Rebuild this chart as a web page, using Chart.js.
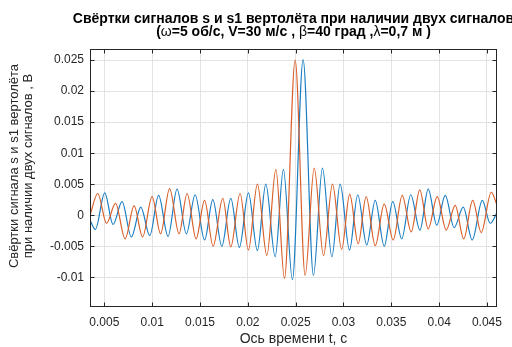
<!DOCTYPE html>
<html>
<head>
<meta charset="utf-8">
<script src="https://cdn.jsdelivr.net/npm/chart.js@4.4.1/dist/chart.umd.min.js"></script>
<style>
  html, body { margin: 0; padding: 0; background: #ffffff; }
  #wrap { width: 512px; height: 347px; }
</style>
</head>
<body>
<div id="wrap"><canvas id="svertka" width="512" height="347"></canvas></div>
<script>
// Свёртка s (синяя) и s1 (оранжевая): экстремумы по времени
const blueT = [0.00350, 0.00406, 0.00504, 0.00591, 0.00685, 0.00782, 0.00881, 0.00975, 0.01067, 0.01166,
               0.01260, 0.01358, 0.01449, 0.01548, 0.01634, 0.01728, 0.01822, 0.01912, 0.02006, 0.02100,
               0.02188, 0.02286, 0.02372, 0.02466, 0.02578, 0.02686, 0.02780, 0.02879, 0.02965, 0.03063,
               0.03149, 0.03243, 0.03332, 0.03426, 0.03515, 0.03609, 0.03703, 0.03799, 0.03886, 0.03975,
               0.04064, 0.04157, 0.04252, 0.04346, 0.04451, 0.04534, 0.04608];
const blueV = [-0.0008, -0.0023, 0.0036, -0.0015, 0.0022, -0.0035, 0.0013, -0.0033, 0.0032, -0.0034,
               0.0042, -0.0030, 0.0033, -0.0040, 0.0025, -0.0050, 0.0027, -0.0052, 0.0036, -0.0057,
               0.0050, -0.0067, 0.0074, -0.0104, 0.0251, -0.0097, 0.0076, -0.0067, 0.0050, -0.0056,
               0.0033, -0.0048, 0.0024, -0.0050, 0.0022, -0.0038, 0.0033, -0.0024, 0.0042, -0.0016,
               0.0032, -0.0020, 0.0013, -0.0040, 0.0024, -0.0013, 0.0005];

const orangeT = [0.00350, 0.00431, 0.00523, 0.00617, 0.00717, 0.00811, 0.00900, 0.00999, 0.01088, 0.01182,
                 0.01281, 0.01365, 0.01459, 0.01548, 0.01637, 0.01738, 0.01822, 0.01919, 0.02006, 0.02100,
                 0.02199, 0.02293, 0.02383, 0.02495, 0.02599, 0.02694, 0.02791, 0.02885, 0.02981, 0.03065,
                 0.03154, 0.03237, 0.03332, 0.03426, 0.03520, 0.03614, 0.03708, 0.03797, 0.03886, 0.03980,
                 0.04074, 0.04168, 0.04257, 0.04351, 0.04440, 0.04545, 0.04608];
const orangeV = [0.0000, 0.0035, -0.0013, 0.0019, -0.0038, 0.0015, -0.0035, 0.0030, -0.0030, 0.0043,
                 -0.0030, 0.0035, -0.0038, 0.0024, -0.0050, 0.0027, -0.0051, 0.0035, -0.0056, 0.0050,
                 -0.0065, 0.0074, -0.0102, 0.0250, -0.0097, 0.0076, -0.0065, 0.0050, -0.0055, 0.0034,
                 -0.0046, 0.0030, -0.0049, 0.0018, -0.0040, 0.0032, -0.0027, 0.0041, -0.0022, 0.0030,
                 -0.0024, 0.0016, -0.0038, 0.0024, -0.0028, 0.0037, 0.0015];

const xTicks = [0.005, 0.01, 0.015, 0.02, 0.025, 0.03, 0.035, 0.04, 0.045];
const xTickLabels = ['0.005', '0.01', '0.015', '0.02', '0.025', '0.03', '0.035', '0.04', '0.045'];
const yTicks = [-0.01, -0.005, 0, 0.005, 0.01, 0.015, 0.02, 0.025];
const yTickLabels = ['-0.01', '-0.005', '0', '0.005', '0.01', '0.015', '0.02', '0.025'];

const titleLine1 = 'Свёртки сигналов s и s1 вертолёта при наличии двух сигналов';
// вторая строка: греческие буквы идут обычным шрифтом
const titleLine2 = [['(', 1], ['ω', 0], ['=5 об/с, V=30 м/с , ', 1], ['β', 0], ['=40 град ,', 1], ['λ', 0], ['=0,7 м )', 1]];
const yLabel = ['Свёртки сигнала s и s1 вертолёта', 'при наличии двух сигналов , В'];
const xLabel = 'Ось времени t, с';

const AXIS = '#262626';
const FONT = '"Liberation Sans", Arial, sans-serif';

function pts(ts, vs) {
    return ts.map((t, i) => ({ x: t, y: vs[i] }));
}

// рамка осей, внутренние засечки и подписи
const matlabAxes = {
    id: 'matlabAxes',
    afterDraw(chart) {
        const ctx = chart.ctx;
        const a = chart.chartArea;
        const xs = chart.scales.x, ys = chart.scales.y;
        const L = Math.round(a.left) + 0.5, R = Math.round(a.right) - 0.5;
        const T = Math.round(a.top) + 0.5, B = Math.round(a.bottom) - 0.5;
        ctx.save();
        ctx.strokeStyle = AXIS;
        ctx.lineWidth = 1;
        ctx.strokeRect(L, T, R - L, B - T);
        ctx.beginPath();
        xTicks.forEach(v => {
            const px = Math.round(xs.getPixelForValue(v)) + 0.5;
            ctx.moveTo(px, B); ctx.lineTo(px, B - 4);
            ctx.moveTo(px, T); ctx.lineTo(px, T + 4);
        });
        yTicks.forEach(v => {
            const py = Math.round(ys.getPixelForValue(v)) + 0.5;
            ctx.moveTo(L, py); ctx.lineTo(L + 4, py);
            ctx.moveTo(R, py); ctx.lineTo(R - 4, py);
        });
        ctx.stroke();

        const cx = (a.left + a.right) / 2;
        ctx.fillStyle = '#000000';
        ctx.textBaseline = 'middle';
        ctx.textAlign = 'center';
        ctx.font = 'bold 14px ' + FONT;
        ctx.fillText(titleLine1, cx, 19);

        // вторая строка заголовка по кускам
        const fontOf = b => (b ? 'bold 14px ' : '14px ') + FONT;
        let w = 0;
        titleLine2.forEach(([s, b]) => { ctx.font = fontOf(b); w += ctx.measureText(s).width; });
        let x = cx - w / 2;
        ctx.textAlign = 'left';
        titleLine2.forEach(([s, b]) => {
            ctx.font = fontOf(b);
            ctx.fillText(s, x, 32.5);
            x += ctx.measureText(s).width;
        });

        ctx.fillStyle = AXIS;
        ctx.textAlign = 'center';
        ctx.font = '14px ' + FONT;
        ctx.fillText(xLabel, cx, 339);

        ctx.font = '13px ' + FONT;
        ctx.translate(14, 166);
        ctx.rotate(-Math.PI / 2);
        ctx.fillText(yLabel[0], 0, 0);
        ctx.fillText(yLabel[1], 0, 14.5);
        ctx.restore();
    }
};

new Chart(document.getElementById('svertka'), {
    type: 'line',
    data: {
        datasets: [
            {
                label: 's',
                data: pts(blueT, blueV),
                borderColor: '#1A7EC2',
                borderWidth: 1.2,
                pointRadius: 0,
                cubicInterpolationMode: 'monotone',
                order: 2
            },
            {
                label: 's1',
                data: pts(orangeT, orangeV),
                borderColor: '#D95F2A',
                borderWidth: 1.2,
                pointRadius: 0,
                cubicInterpolationMode: 'monotone',
                order: 1
            }
        ]
    },
    options: {
        responsive: false,
        animation: false,
        events: [],
        layout: { padding: { top: 49, right: 15, left: 0, bottom: 0 } },
        plugins: {
            legend: { display: false },
            tooltip: { enabled: false },
            title: { display: false }
        },
        scales: {
            x: {
                type: 'linear',
                min: 0.0035,
                max: 0.04605,
                afterFit: s => { s.height = 40; },
                afterBuildTicks: s => { s.ticks = xTicks.map(v => ({ value: v })); },
                grid: { color: '#e3e3e3', drawTicks: false },
                border: { display: false },
                ticks: {
                    padding: 8,
                    color: AXIS,
                    font: { family: FONT, size: 12 },
                    maxRotation: 0,
                    autoSkip: false,
                    callback: v => xTickLabels[xTicks.indexOf(v)]
                }
            },
            y: {
                type: 'linear',
                min: -0.0148,
                max: 0.0268,
                afterFit: s => { s.width = 90; },
                afterBuildTicks: s => { s.ticks = yTicks.map(v => ({ value: v })); },
                grid: { color: '#e3e3e3', drawTicks: false },
                border: { display: false },
                ticks: {
                    padding: 6,
                    color: AXIS,
                    font: { family: FONT, size: 12 },
                    autoSkip: false,
                    callback: v => yTickLabels[yTicks.indexOf(v)]
                }
            }
        }
    },
    plugins: [matlabAxes]
});
</script>
</body>
</html>
